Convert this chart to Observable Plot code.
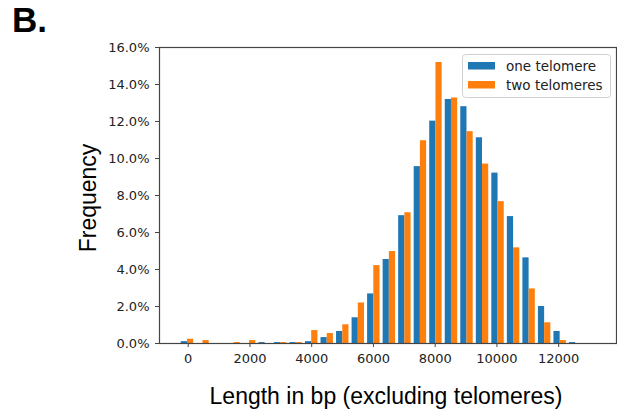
<!DOCTYPE html>
<html><head><meta charset="utf-8">
<script src="https://cdn.jsdelivr.net/npm/d3@7"></script>
<script src="https://cdn.jsdelivr.net/npm/@observablehq/plot@0.6"></script>
<style>body{margin:0;background:#fff}</style>
</head><body><div id="chart"></div>
<script>
// Histogram bin centers (bp)
const binCenters = [-24, 479, 982, 1485, 1988, 2491, 2994, 3497, 4000, 4503, 5006, 5509, 6012,
  6515, 7018, 7521, 8024, 8527, 9030, 9533, 10036, 10539, 11042, 11545, 12048, 12551];
const binWidth = 503;
// Frequencies (%)
const oneTelomere = [0.10, 0, 0, 0, 0, 0.05, 0.05, 0.05, 0.10, 0.32, 0.65, 1.39, 2.68,
  4.54, 6.91, 9.56, 12.02, 13.19, 12.80, 11.12, 9.21, 6.86, 4.63, 2.00, 0.65, 0.05];
const twoTelomeres = [0.23, 0.16, 0, 0.05, 0.16, 0, 0.05, 0.05, 0.70, 0.54, 1.01, 2.19, 4.21,
  4.97, 7.07, 10.96, 15.19, 13.27, 11.45, 9.70, 7.67, 5.17, 2.95, 1.12, 0.16, 0];
const seriesNames = ["one telomere", "two telomeres"];
const seriesColors = ["#1f77b4", "#ff7f0e"];
const xTicks = [0, 2000, 4000, 6000, 8000, 10000, 12000];
const yTicks = [0, 2, 4, 6, 8, 10, 12, 14, 16];

const seriesValues = [oneTelomere, twoTelomeres];
const rows = [];
seriesValues.forEach((vals, i) => {
  binCenters.forEach((c, k) => {
    const x1 = c - 0.4 * binWidth + i * 0.4 * binWidth;
    rows.push({series: seriesNames[i], x1, x2: x1 + 0.4 * binWidth, y: vals[k]});
  });
});

const W = 617, H = 414;
const chart = Plot.plot({
  width: W, height: H,
  marginLeft: 159, marginRight: 1, marginTop: 47, marginBottom: 71,
  style: {fontFamily: "DejaVu Sans", fontSize: "13px", color: "#222", background: "#fff"},
  x: {domain: [-930, 13873]},
  y: {domain: [0, 16]},
  color: {domain: seriesNames, range: seriesColors},
  marks: [
    Plot.rectY(rows, {x1: "x1", x2: "x2", y: "y", fill: "series"}),
    Plot.axisX({ticks: xTicks, tickSize: 4, tickPadding: 6, tickFormat: d3.format("d"), label: null, stroke: "#444", fontSize: 13}),
    Plot.axisY({ticks: yTicks, tickSize: 4, tickPadding: 6, tickFormat: d => d.toFixed(1) + "%", label: null, stroke: "#444", fontSize: 13}),
    Plot.frame({stroke: "#444", strokeWidth: 1.2})
  ]
});
document.getElementById("chart").appendChild(chart);

const svg = d3.select(chart);
svg.append("text").attr("x", 12).attr("y", 31.5).attr("text-anchor", "start")
  .attr("font-family", "Liberation Sans").attr("font-weight", "bold").attr("font-size", 35)
  .attr("fill", "#000").text("B.");
svg.append("text").attr("transform", "translate(96,198) rotate(-90)")
  .attr("text-anchor", "middle").attr("font-family", "Liberation Sans").attr("font-size", 23)
  .attr("fill", "#000").text("Frequency");
svg.append("text").attr("x", 386).attr("y", 404)
  .attr("text-anchor", "middle").attr("font-family", "Liberation Sans").attr("font-size", 23)
  .attr("fill", "#000").text("Length in bp (excluding telomeres)");

const lg = svg.append("g");
lg.append("rect").attr("x", 462.5).attr("y", 54.5).attr("width", 148).attr("height", 43)
  .attr("rx", 3).attr("fill", "#fff").attr("fill-opacity", 0.8).attr("stroke", "#d0d0d0");
seriesNames.forEach((name, i) => {
  lg.append("rect").attr("x", 468).attr("y", 62 + i * 19).attr("width", 27).attr("height", 7.5)
    .attr("fill", seriesColors[i]);
  lg.append("text").attr("x", 506).attr("y", 71 + i * 19).attr("text-anchor", "start")
    .attr("font-family", "DejaVu Sans").attr("font-size", 13.5).attr("fill", "#222").text(name);
});
</script>
</body></html>
